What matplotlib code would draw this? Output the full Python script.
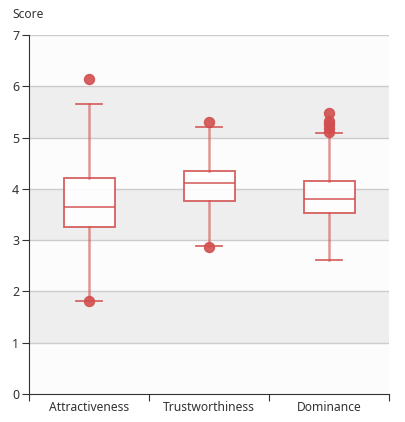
import matplotlib.pyplot as plt

# valores
categorias = ['Attractiveness', 'Trustworthiness', 'Dominance']
whisker_inf = [1.81, 2.89, 2.61]
q1 = [3.25, 3.76, 3.53]
mediana = [3.65, 4.11, 3.81]
q3 = [4.21, 4.34, 4.16]
whisker_sup = [5.65, 5.21, 5.08]
outliers = [[6.14, 1.81], [5.30, 2.86], [5.47, 5.32, 5.26, 5.18, 5.11]]

cor = '#d24f4f'

stats = []
for i, nome in enumerate(categorias):
    stats.append({'label': nome, 'whislo': whisker_inf[i], 'q1': q1[i], 'med': mediana[i],
                  'q3': q3[i], 'whishi': whisker_sup[i], 'fliers': outliers[i]})

plt.rcParams['font.family'] = ['Noto Sans', 'DejaVu Sans']
fig = plt.figure(figsize=(4.05, 4.22), dpi=100)
ax = fig.add_axes([29 / 405, 1 - 394 / 422, 360 / 405, 359 / 422])

# faixas alternadas de fundo
for y in range(7):
    ax.axhspan(y, y + 1, color='#eeeeee' if y % 2 == 1 else '#fcfcfc', zorder=0, lw=0)
for y in range(1, 8):
    ax.axhline(y, color='#cccccc', lw=1, zorder=1)

ax.bxp(stats, positions=[0, 1, 2], widths=0.425, patch_artist=True, showcaps=True,
       boxprops=dict(facecolor='white', edgecolor=cor, lw=1.3, alpha=0.9),
       medianprops=dict(color=cor, lw=1.4, alpha=0.75),
       whiskerprops=dict(color=cor, lw=1.8, alpha=0.6),
       capprops=dict(color=cor, lw=1.3, alpha=0.85),
       flierprops=dict(marker='o', markerfacecolor=cor, markeredgecolor=cor, markersize=7.2, alpha=0.9),
       zorder=3)

ax.set_xlim(-0.5, 2.5)
ax.set_ylim(0, 7)
ax.set_yticks(range(8))
ax.set_xticks([-0.5, 0.5, 1.5, 2.5])
ax.set_xticklabels([])
ax.set_xticks([0, 1, 2], minor=True)
ax.set_xticklabels(categorias, minor=True)
ax.tick_params(axis='x', which='minor', length=0, labelsize=8.7, colors='#333333', pad=5)
ax.tick_params(axis='x', which='major', length=5, color='#333333')
ax.tick_params(axis='y', length=5, labelsize=9, colors='#333333', pad=2)
ax.spines['top'].set_visible(False)
ax.spines['right'].set_visible(False)
ax.spines['left'].set_color('#333333')
ax.spines['bottom'].set_color('#333333')

fig.text(12 / 405, 1 - 14 / 422, 'Score', fontsize=8.7, color='#333333', va='center')

plt.savefig('out.png', dpi=100)
